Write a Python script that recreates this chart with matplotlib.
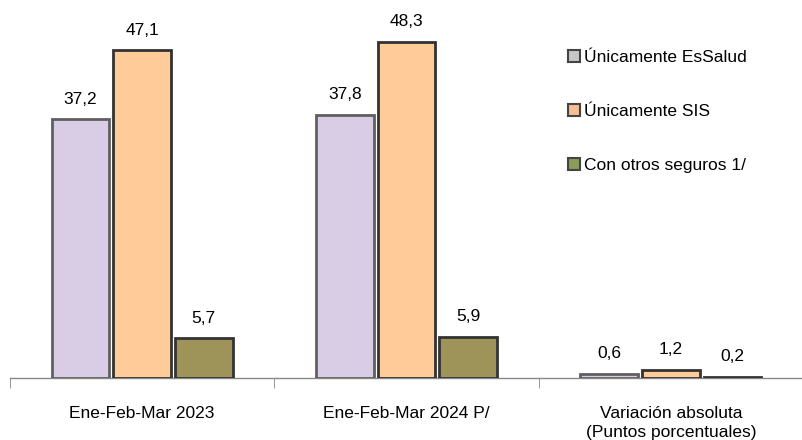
import numpy as np
import matplotlib.pyplot as plt
from matplotlib.patches import Patch

plt.rcParams['font.family'] = ['Liberation Sans Narrow', 'Liberation Sans', 'DejaVu Sans']

# data
categories = ['Ene-Feb-Mar 2023', 'Ene-Feb-Mar 2024 P/', 'Variación absoluta\n(Puntos porcentuales)']
series_names = ['Únicamente EsSalud', 'Únicamente SIS', 'Con otros seguros 1/']
essalud = [37.2, 37.8, 0.6]
sis = [47.1, 48.3, 1.2]
otros = [5.7, 5.9, 0.2]

fills = ['#D9CDE6', '#FFCC99', '#9E945A']
edges = ['#5F5F5F', '#333333', '#333333']
legend_fills = ['#C8C8C8', '#F6BE92', '#8C9A5A']

fig = plt.figure(figsize=(8.03, 4.40), dpi=100)
ax = fig.add_axes([10 / 803, 62 / 440, 793 / 803, 378 / 440])

x = np.arange(len(categories))
w = 0.218
step = 0.233
for i, vals in enumerate([essalud, sis, otros]):
    pos = x + (i - 1) * step
    bars = ax.bar(pos, vals, width=w, color=fills[i], edgecolor=edges[i], linewidth=2, zorder=3)
    for b, v in zip(bars, vals):
        ax.text(b.get_x() + b.get_width() / 2, v + 1.8, f'{v:.1f}'.replace('.', ','),
                ha='center', va='bottom', fontsize=12.5)

ax.set_xlim(-0.5, 2.48)
ax.set_ylim(0, 54.3)
ax.set_yticks([])
ax.set_xticks(x)
ax.set_xticklabels(categories, fontsize=12.5, linespacing=1.35)
ax.tick_params(axis='x', which='major', length=0, pad=20)
ax.set_xticks([-0.5, 0.5, 1.5, 2.5], minor=True)
ax.tick_params(axis='x', which='minor', length=7, color='#888888', direction='out')
for s in ['top', 'right', 'left']:
    ax.spines[s].set_visible(False)
ax.spines['bottom'].set_color('#888888')
ax.spines['bottom'].set_linewidth(1)

handles = [Patch(facecolor=legend_fills[i], edgecolor='#444444', linewidth=1.5) for i in range(3)]
fig.legend(handles, series_names, loc='upper left', bbox_to_anchor=(552 / 803, 1 - 34 / 440),
           frameon=False, fontsize=12.5, handlelength=0.7, handleheight=0.7,
           handletextpad=0.25, labelspacing=2.25)

fig.savefig('out.png', dpi=100)
